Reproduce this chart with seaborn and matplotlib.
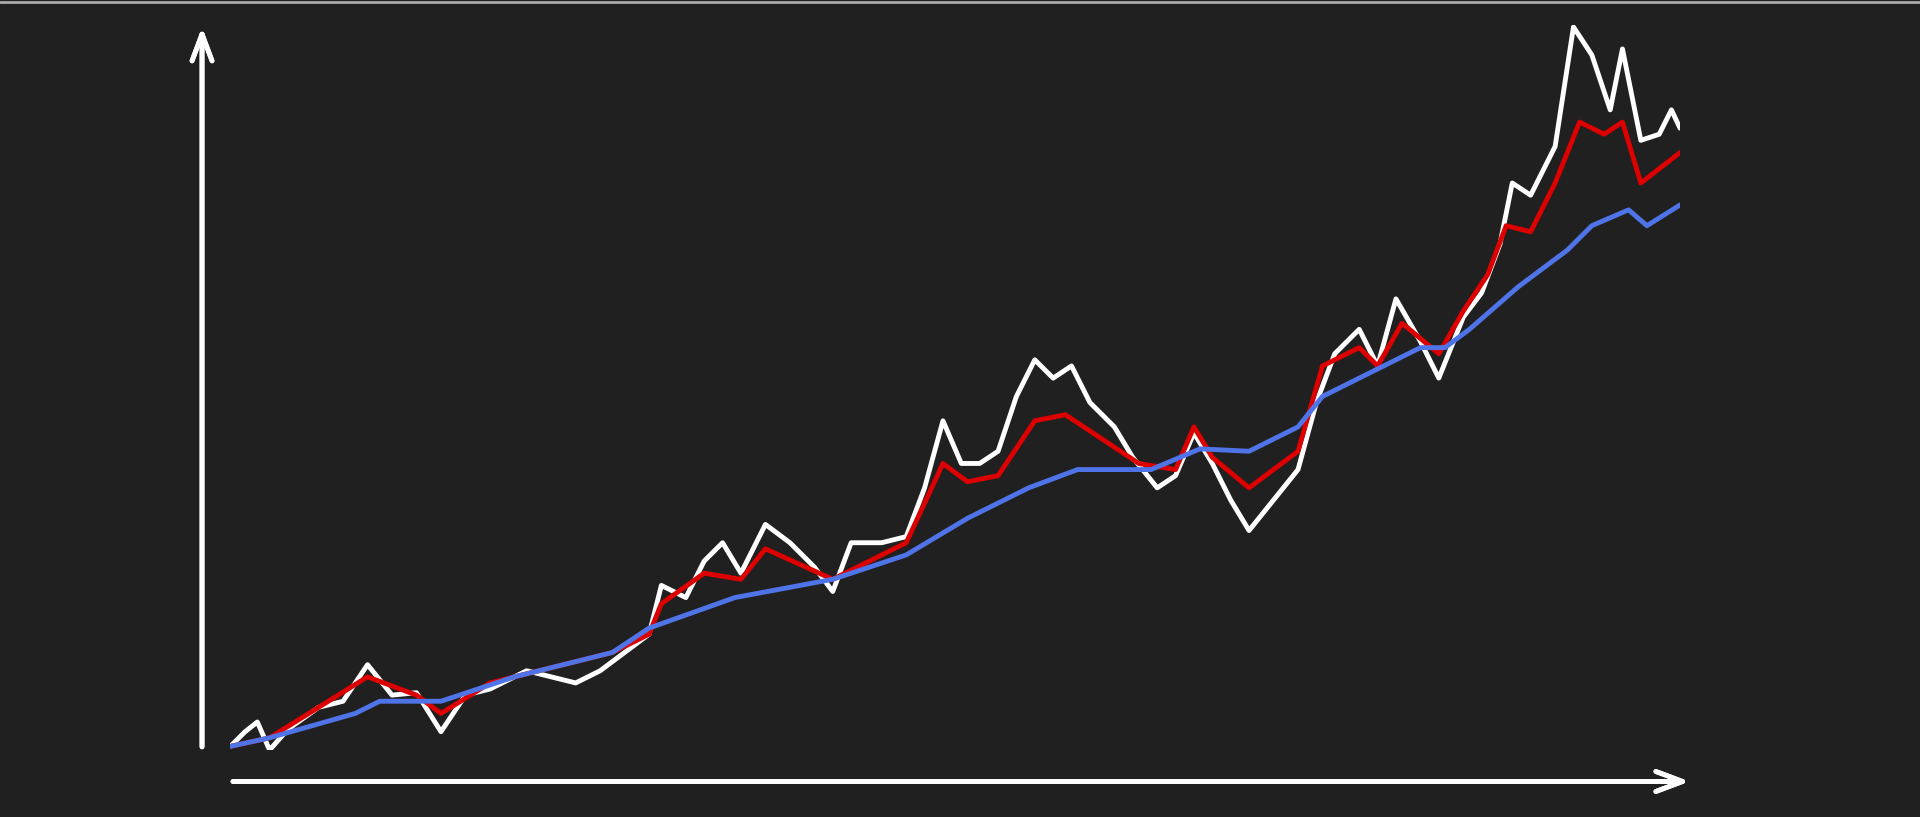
import pandas as pd
import matplotlib.pyplot as plt
import seaborn as sns

# values (arbitrary units, time on x)
white_t = [188, 200, 210, 220, 235, 260, 280, 300, 320, 340, 360, 380, 400, 430, 450, 470, 490, 510,
           530, 540, 560, 575, 590, 605, 625, 645, 665, 680, 695, 720, 740, 755, 770, 785, 800, 815,
           830, 845, 860, 875, 890, 910, 925, 945, 960, 975, 990, 1005, 1020, 1040, 1060, 1075, 1090,
           1110, 1125, 1140, 1160, 1175, 1195, 1210, 1225, 1235, 1250, 1270, 1285, 1300, 1315, 1325,
           1340, 1355, 1365, 1372]
white_v = [0, 12, 20, -3, 14, 32, 37, 67, 42, 44, 12, 42, 47, 62, 57, 52, 62, 77,
           92, 132, 122, 152, 167, 142, 182, 167, 147, 127, 167, 167, 172, 212, 267, 232, 232, 242,
           287, 317, 302, 312, 282, 262, 237, 212, 222, 257, 232, 202, 177, 202, 227, 282, 322,
           342, 312, 367, 332, 302, 352, 372, 412, 462, 452, 492, 590, 567, 522, 572,
           497, 502, 522, 507]

red_t = [188, 220, 300, 340, 360, 400, 500, 530, 540, 575, 605, 625, 680, 720, 740, 770, 790, 815,
         845, 870, 900, 930, 960, 975, 990, 1020, 1060, 1080, 1110, 1125, 1145, 1175, 1195, 1215,
         1230, 1250, 1270, 1290, 1310, 1325, 1340, 1372]
red_v = [0, 7, 57, 42, 27, 52, 77, 92, 117, 142, 137, 162, 137, 157, 167, 232, 217, 222,
         267, 272, 252, 232, 227, 262, 237, 212, 242, 312, 327, 312, 347, 322, 357, 387,
         427, 422, 462, 512, 502, 512, 462, 487]

blue_t = [188, 220, 290, 310, 360, 420, 500, 530, 600, 680, 740, 790, 840, 880, 940, 980, 1020,
          1060, 1080, 1120, 1160, 1180, 1200, 1240, 1280, 1300, 1330, 1345, 1372]
blue_v = [0, 7, 27, 37, 37, 57, 77, 97, 122, 137, 157, 187, 212, 227, 227, 244, 242,
          262, 287, 307, 327, 327, 342, 377, 407, 427, 440, 427, 444]

df = pd.concat([
    pd.DataFrame({"t": white_t, "v": white_v, "s": "white"}),
    pd.DataFrame({"t": red_t, "v": red_v, "s": "red"}),
    pd.DataFrame({"t": blue_t, "v": blue_v, "s": "blue"}),
])

bg = "#202020"
sns.set_theme(style="dark", rc={"figure.facecolor": bg, "axes.facecolor": bg})
fig = plt.figure(figsize=(19.2, 8.17), dpi=100)
ax = fig.add_axes([0.12, 0.082, 0.755, 0.888])
sns.lineplot(data=df, x="t", y="v", hue="s",
             palette={"white": "white", "red": "#dd0000", "blue": "#4f74e8"},
             linewidth=3.5, legend=False, ax=ax, sort=False)
ax.set_xlim(188, 1372)
ax.set_ylim(-3, 592)
ax.set_axis_off()

arrow = dict(arrowstyle="->,head_length=1.6,head_width=0.6", color="white", lw=3.5)
fig.add_artist(plt.annotate("", xy=(165 / 1568, 1 - 20 / 667), xytext=(165 / 1568, 1 - 612 / 667),
                            xycoords="figure fraction", arrowprops=arrow))
fig.add_artist(plt.annotate("", xy=(1382 / 1568, 1 - 638 / 667), xytext=(188 / 1568, 1 - 638 / 667),
                            xycoords="figure fraction", arrowprops=arrow))
fig.add_artist(plt.Line2D([0, 1], [0.998, 0.998], color="#aaaaaa", lw=2, transform=fig.transFigure))

fig.savefig("out.png", dpi=100, facecolor=bg)
